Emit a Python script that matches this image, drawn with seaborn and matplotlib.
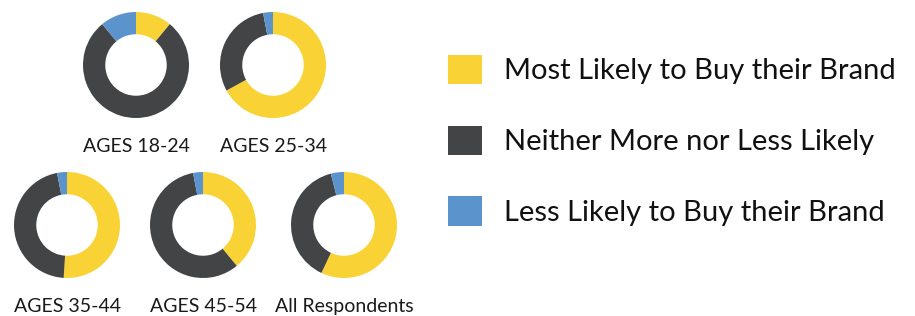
import matplotlib
matplotlib.use("Agg")
import matplotlib.pyplot as plt
import seaborn as sns
from matplotlib.patches import Patch

sns.set_theme(style="white")
plt.rcParams['font.family'] = ['Lato', 'DejaVu Sans']

groups = ['AGES 18-24', 'AGES 25-34', 'AGES 35-44', 'AGES 45-54', 'All Respondents']
most_likely = [11, 67, 51, 39, 57]
neither = [78, 30, 46, 58, 39]
less_likely = [11, 3, 3, 3, 4]
series_names = ['Most Likely to Buy their Brand', 'Neither More nor Less Likely', 'Less Likely to Buy their Brand']
colors = ['#F9D335', '#434446', '#5B93CC']

# donut centres / radius in pixels, label baseline
W, H = 915, 316
centres = [(136, 65), (273, 65), (67, 225), (203, 225), (344, 225)]
R = 53
label_y = [152, 152, 312, 312, 312]

fig = plt.figure(figsize=(W / 100, H / 100), dpi=100)

for i, g in enumerate(groups):
    cx, cy = centres[i]
    ax = fig.add_axes([(cx - R) / W, (H - cy - R) / H, 2 * R / W, 2 * R / H])
    vals = [most_likely[i], neither[i], less_likely[i]]
    ax.pie(vals, colors=colors, startangle=90, counterclock=False,
           radius=1, wedgeprops=dict(width=0.42, edgecolor='none'))
    ax.set_xlim(-1, 1)
    ax.set_ylim(-1, 1)
    ax.axis('off')
    fig.text(cx / W, 1 - label_y[i] / H, g, ha='center', va='baseline',
             fontsize=14, color='#1a1a1a')

handles = [Patch(facecolor=c, edgecolor='none') for c in colors]
leg = fig.legend(handles, series_names, loc='upper left',
                 bbox_to_anchor=(433 / W, 1 - 40 / H), frameon=False,
                 fontsize=21, handlelength=1.17, handleheight=1.17,
                 handletextpad=0.75, labelspacing=1.42, borderpad=0)
for t in leg.get_texts():
    t.set_color('#111111')

fig.savefig('out.png', dpi=100)
